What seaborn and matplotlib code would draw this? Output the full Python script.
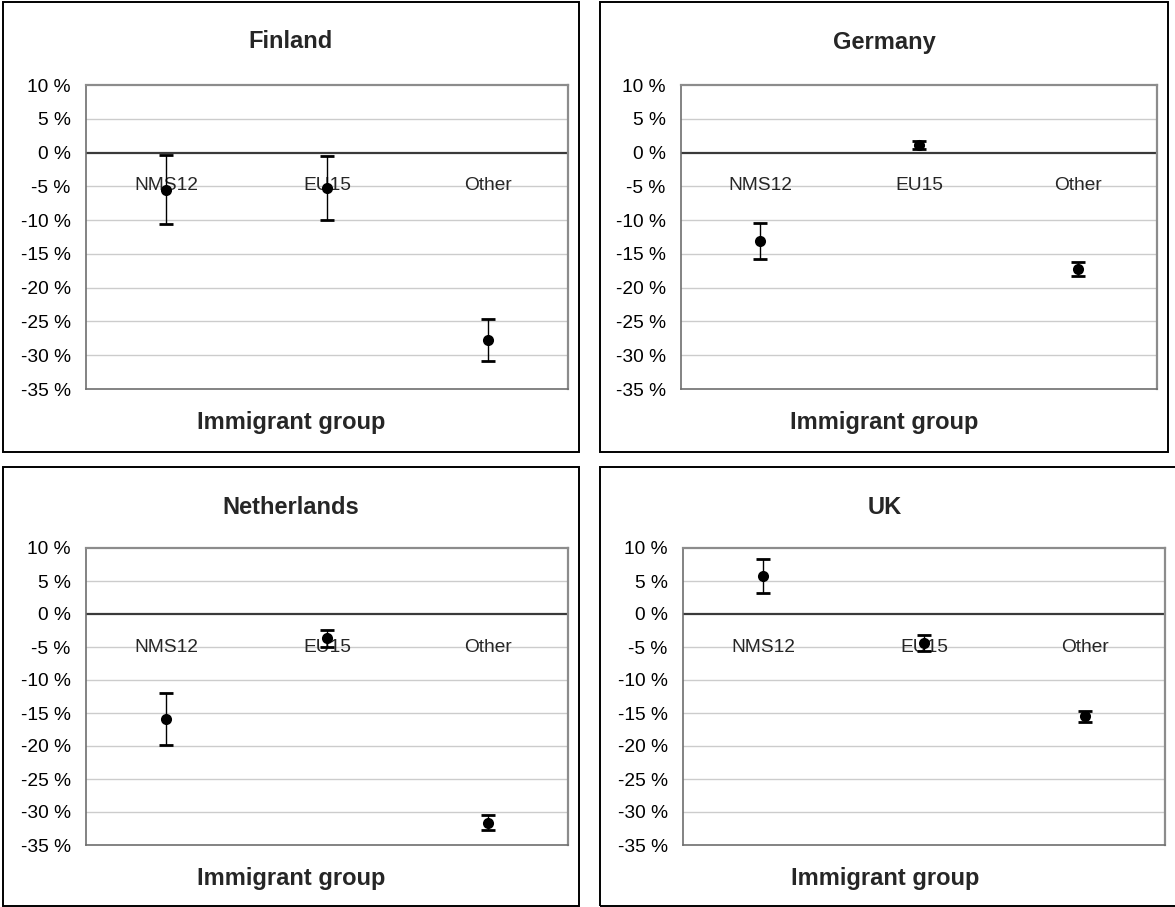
import matplotlib
matplotlib.use("Agg")
import matplotlib.pyplot as plt
from matplotlib.patches import Rectangle
from matplotlib.ticker import FuncFormatter
import seaborn as sns
import pandas as pd

sns.set_style("white")
plt.rcParams["font.family"] = ["Liberation Sans", "DejaVu Sans"]

groups = ["NMS12", "EU15", "Other"]

countries = ["Finland", "Germany", "Netherlands", "UK"]

finland_est = [-5.5, -5.3, -27.7]
finland_err = [5.1, 4.75, 3.1]

germany_est = [-13.1, 1.1, -17.2]
germany_err = [2.6, 0.6, 1.05]

netherlands_est = [-15.9, -3.7, -31.6]
netherlands_err = [3.95, 1.25, 1.15]

uk_est = [5.8, -4.4, -15.5]
uk_err = [2.6, 1.15, 0.85]

y_ticks = [10, 5, 0, -5, -10, -15, -20, -25, -30, -35]

estimates = [finland_est, germany_est, netherlands_est, uk_est]
errors = [finland_err, germany_err, netherlands_err, uk_err]

W, H = 1175, 907
fig = plt.figure(figsize=(W / 100, H / 100), dpi=100)


def px_rect(x0, y0, x1, y1):
    # pixel box (top-left origin) -> figure fraction [left, bottom, width, height]
    return [x0 / W, 1 - y1 / H, (x1 - x0) / W, (y1 - y0) / H]


# plot areas and surrounding chart frames, in pixels
plot_boxes = [
    (86, 85, 568, 389),
    (681, 85, 1157, 389),
    (86, 548, 568, 845),
    (683, 548, 1165, 845),
]
frame_boxes = [
    (3, 2, 579, 452),
    (600, 2, 1168, 452),
    (3, 467, 579, 906),
    (600, 467, 1185, 906),
]

pct_fmt = FuncFormatter(lambda v, _: f"{int(round(v))} %")

for name, est, err, pbox, fbox in zip(countries, estimates, errors, plot_boxes, frame_boxes):
    # chart frame
    fx0, fy0, fx1, fy1 = fbox
    l, b, w, h = px_rect(fx0, fy0, fx1, fy1)
    fig.patches.append(Rectangle((l, b), w, h, transform=fig.transFigure,
                                 fill=False, edgecolor="black", linewidth=1.4))
    cx = (fx0 + min(fx1, 1170)) / 2

    ax = fig.add_axes(px_rect(*pbox))
    df = pd.DataFrame({"group": groups, "value": est, "err": err})

    ax.set_xlim(-0.5, 2.5)
    ax.set_ylim(-35, 10)
    ax.set_yticks(y_ticks)
    ax.yaxis.set_major_formatter(pct_fmt)
    ax.set_xticks([])
    ax.tick_params(axis="y", length=0, pad=11, labelsize=13.8, colors="black")

    for yv in y_ticks:
        if yv not in (0, 10, -35):
            ax.axhline(yv, color="#cccccc", linewidth=1.0, zorder=0)
    ax.axhline(0, color="#3a3a3a", linewidth=1.6, zorder=1)

    for i, g in enumerate(groups):
        ax.annotate(g, xy=(i, 0), xytext=(0, -23.8), textcoords="offset points",
                    ha="center", va="center", fontsize=13.8, zorder=2)

    ax.errorbar(range(len(groups)), df["value"], yerr=df["err"], fmt="none",
                ecolor="black", elinewidth=1.0, capsize=5, capthick=2.0, zorder=3)
    sns.scatterplot(data=df, x="group", y="value", ax=ax, color="black",
                    s=64, edgecolor="black", linewidth=0, zorder=4, legend=False)
    ax.set_xlim(-0.5, 2.5)
    ax.set_xlabel("")
    ax.set_ylabel("")

    for side in ["top", "right"]:
        ax.spines[side].set_color("#8c8c8c")
        ax.spines[side].set_linewidth(1.6)
    for side in ["left", "bottom"]:
        ax.spines[side].set_color("#6e6e6e")
        ax.spines[side].set_linewidth(1.2)

    fig.text(cx / W, 1 - (fy0 + 40) / H, name, ha="center", va="center",
             fontsize=17, fontweight="bold")
    fig.text(cx / W, 1 - (pbox[3] + 34) / H, "Immigrant group", ha="center",
             va="center", fontsize=17, fontweight="bold")

fig.savefig("out.png", dpi=100, facecolor="white")
